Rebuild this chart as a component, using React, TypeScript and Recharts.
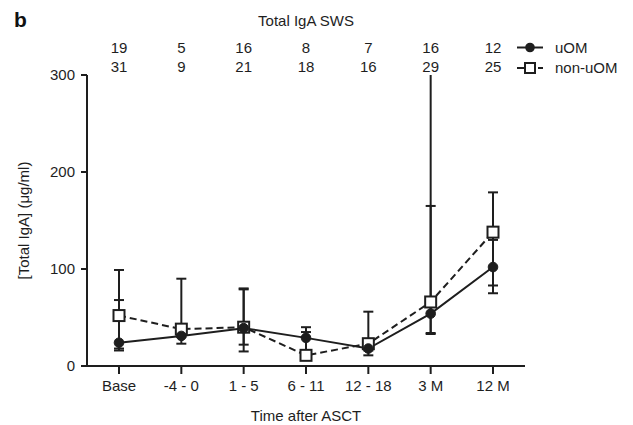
import React from "react";
import { LineChart, Line, XAxis, YAxis, ErrorBar } from "recharts";

const categories = ["Base", "-4 - 0", "1 - 5", "6 - 11", "12 - 18", "3 M", "12 M"];
const nUOM = [19, 5, 16, 8, 7, 16, 12];
const nNonUOM = [31, 9, 21, 18, 16, 29, 25];

// medians
const uOM = [24, 31, 39, 29, 18, 54, 102];
const nonUOM = [52, 38, 40, 11, 23, 66, 138];
// [below, above] distances of the whiskers
const uOMErr = [[8, 44], [8, 7], [17, 41], [15, 11], [7, 7], [20, 111], [27, 28]];
const nonUOMErr = [[34, 47], [8, 52], [25, 39], [4, 24], [7, 33], [33, 0], [55, 41]];
// whisker running off the top of the axis (no cap drawn), 3 M non-uOM
const nonUOMOff = [null, null, null, null, null, [0, 234], null];

const yTicks = [0, 100, 200, 300];

const data = categories.map((name, i) => ({
  name,
  uOM: uOM[i],
  nonUOM: nonUOM[i],
  uOMErr: uOMErr[i],
  nonUOMErr: nonUOMErr[i],
  nonUOMOffVal: nonUOMOff[i] ? nonUOM[i] : null,
  nonUOMOff: nonUOMOff[i] ?? [0, 0],
}));

const INK = "#1e1e1e";
const FONT = "'Liberation Sans', Arial, sans-serif";

const CountTick = (props: any) => {
  const { x, payload } = props;
  const i = payload.index;
  return (
    <g>
      <text x={x} y={53} textAnchor="middle" fontSize={15} fill={INK} fontFamily={FONT}>
        {nUOM[i]}
      </text>
      <text x={x} y={72} textAnchor="middle" fontSize={15} fill={INK} fontFamily={FONT}>
        {nNonUOM[i]}
      </text>
    </g>
  );
};

const Dot = (props: any) => {
  const { cx, cy } = props;
  if (cx == null || cy == null) return null;
  return <circle cx={cx} cy={cy} r={4.8} fill={INK} stroke={INK} strokeWidth={1} />;
};

const Square = (props: any) => {
  const { cx, cy } = props;
  if (cx == null || cy == null) return null;
  return (
    <rect x={cx - 5.5} y={cy - 5.5} width={11} height={11} fill="#fff" stroke={INK} strokeWidth={2} />
  );
};

export default function App() {
  return (
    <div style={{ position: "absolute", left: 0, top: 0, width: 633, height: 425, background: "#fff", fontFamily: FONT }}>
      <svg style={{ position: "absolute", left: 0, top: 0 }} width={633} height={425}>
        <text x={14} y={27} fontSize={21} fontWeight="bold" fill="#111" fontFamily={FONT}>b</text>
        <line x1={517} y1={47.5} x2={543} y2={47.5} stroke={INK} strokeWidth={2} />
        <circle cx={530} cy={47.5} r={4.8} fill={INK} />
        <text x={555} y={53} fontSize={15} fill={INK} fontFamily={FONT}>uOM</text>
        <line x1={517} y1={68} x2={525} y2={68} stroke={INK} strokeWidth={2} />
        <rect x={525} y={63} width={10} height={10} fill="#fff" stroke={INK} strokeWidth={2} />
        <line x1={538} y1={68} x2={543} y2={68} stroke={INK} strokeWidth={2} />
        <text x={555} y={73} fontSize={15} fill={INK} fontFamily={FONT}>non-uOM</text>
      </svg>
      <LineChart
        width={633}
        height={425}
        data={data}
        margin={{ top: 0, right: 108, bottom: 0, left: 0 }}
        style={{ position: "absolute", left: 0, top: 0 }}
      >
        <XAxis
          xAxisId="top"
          dataKey="name"
          orientation="top"
          height={75}
          padding={{ left: 32, right: 32 }}
          axisLine={false}
          tickLine={false}
          tick={<CountTick />}
          label={{ value: "Total IgA SWS", position: "insideTop", offset: 15, fontSize: 15, fill: INK, fontFamily: FONT }}
        />
        <XAxis
          dataKey="name"
          height={59}
          padding={{ left: 32, right: 32 }}
          stroke={INK}
          strokeWidth={2}
          tickSize={8}
          tickMargin={6}
          tick={{ fontSize: 15, fill: INK, fontFamily: FONT }}
          label={{ value: "Time after ASCT", position: "insideBottom", offset: 4, fontSize: 15, fill: INK, fontFamily: FONT }}
        />
        <YAxis
          width={87}
          domain={[0, 300]}
          ticks={yTicks}
          allowDataOverflow
          stroke={INK}
          strokeWidth={2}
          tickSize={6}
          tickMargin={6}
          tick={{ fontSize: 15, fill: INK, fontFamily: FONT }}
          label={{ value: "[Total IgA] (\u03bcg/ml)", angle: -90, position: "center", dx: -20, fontSize: 15, fill: INK, fontFamily: FONT }}
        />
        <Line
          dataKey="nonUOMOffVal"
          stroke="none"
          dot={false}
          activeDot={false}
          isAnimationActive={false}
        >
          <ErrorBar dataKey="nonUOMOff" width={0} stroke={INK} strokeWidth={2} direction="y" />
        </Line>
        <Line
          dataKey="nonUOM"
          stroke={INK}
          strokeWidth={2}
          strokeDasharray="7 4"
          dot={<Square />}
          activeDot={false}
          isAnimationActive={false}
        >
          <ErrorBar dataKey="nonUOMErr" width={5} stroke={INK} strokeWidth={2} direction="y" />
        </Line>
        <Line
          dataKey="uOM"
          stroke={INK}
          strokeWidth={2}
          dot={<Dot />}
          activeDot={false}
          isAnimationActive={false}
        >
          <ErrorBar dataKey="uOMErr" width={5} stroke={INK} strokeWidth={2} direction="y" />
        </Line>
      </LineChart>
    </div>
  );
}
